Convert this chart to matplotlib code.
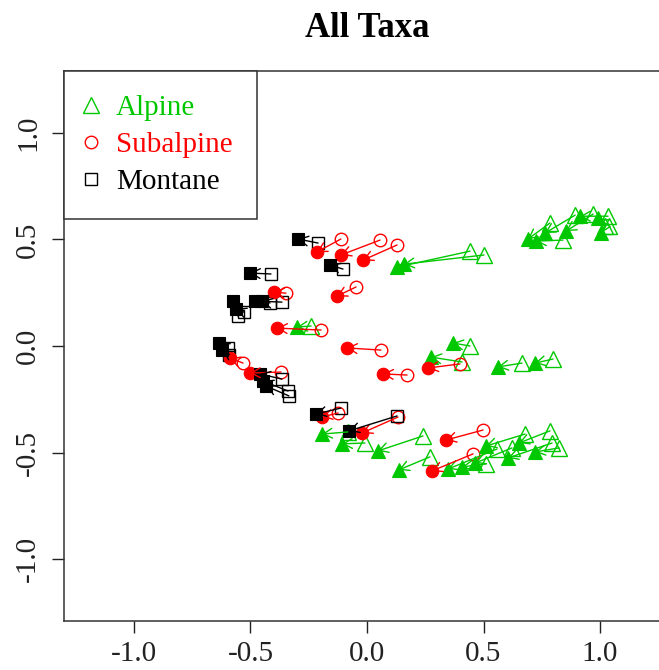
import matplotlib.pyplot as plt
from matplotlib.lines import Line2D

plt.rcParams['font.family'] = ['Liberation Serif', 'DejaVu Serif']

# Alpine: start (open) -> end (filled)
alp_x0 = [0.785, 0.841, 0.893, 0.970, 1.034, 1.039, 1.021, 0.442, 0.502, -0.240, 0.442, 0.408,
          0.665, 0.798, -0.082, -0.009, 0.240, 0.270, 0.511, 0.678, 0.794, 0.785, 0.824, 0.558, 0.622]
alp_y0 = [0.577, 0.497, 0.614, 0.619, 0.609, 0.563, 0.563, 0.445, 0.427, 0.094, 0.000, -0.075,
          -0.080, -0.061, -0.403, -0.455, -0.422, -0.520, -0.553, -0.413, -0.455, -0.398, -0.478, -0.483, -0.478]
alp_x1 = [0.691, 0.725, 0.764, 0.854, 0.914, 0.991, 1.004, 0.129, 0.159, -0.300, 0.369, 0.275,
          0.562, 0.721, -0.193, -0.107, 0.047, 0.137, 0.408, 0.511, 0.605, 0.652, 0.721, 0.348, 0.464]
alp_y1 = [0.502, 0.492, 0.530, 0.539, 0.609, 0.600, 0.530, 0.370, 0.384, 0.089, 0.014, -0.052,
          -0.098, -0.080, -0.413, -0.459, -0.492, -0.581, -0.567, -0.469, -0.525, -0.455, -0.497, -0.577, -0.549]

# Subalpine
sub_x0 = [-0.112, 0.056, 0.129, -0.047, -0.348, -0.197, 0.060, 0.172, 0.399, -0.532, -0.369,
          -0.124, 0.133, 0.498, 0.455]
sub_y0 = [0.502, 0.497, 0.474, 0.277, 0.248, 0.075, -0.019, -0.136, -0.084, -0.080, -0.122,
          -0.314, -0.333, -0.394, -0.506]
sub_x1 = [-0.215, -0.112, -0.017, -0.129, -0.399, -0.386, -0.086, 0.069, 0.262, -0.588, -0.502,
          -0.193, -0.021, 0.339, 0.279]
sub_y1 = [0.441, 0.427, 0.403, 0.234, 0.253, 0.084, -0.009, -0.131, -0.103, -0.056, -0.127,
          -0.333, -0.408, -0.441, -0.586]

# Montane
mon_x0 = [-0.210, -0.103, -0.412, -0.365, -0.416, -0.554, -0.528, -0.597, -0.590, -0.365, -0.339,
          -0.335, -0.112, 0.129]
mon_y0 = [0.483, 0.361, 0.338, 0.206, 0.202, 0.141, 0.159, -0.009, -0.040, -0.155, -0.211,
          -0.234, -0.291, -0.328]
mon_x1 = [-0.296, -0.159, -0.502, -0.481, -0.451, -0.575, -0.562, -0.635, -0.620, -0.459, -0.446,
          -0.433, -0.219, -0.077]
mon_y1 = [0.502, 0.380, 0.342, 0.211, 0.211, 0.211, 0.173, 0.014, -0.020, -0.131, -0.164,
          -0.188, -0.319, -0.398]

groups = [
    ("Alpine", "#00C800", "^", 11, 10, alp_x0, alp_y0, alp_x1, alp_y1),
    ("Subalpine", "#FF0000", "o", 9, 9, sub_x0, sub_y0, sub_x1, sub_y1),
    ("Montane", "black", "s", 9, 8.5, mon_x0, mon_y0, mon_x1, mon_y1),
]

fig = plt.figure(figsize=(6.59, 6.70), dpi=100)
ax = fig.add_axes([0.0971, 0.0731, 0.9196, 0.8209])

for name, col, mk, ms_open, ms_fill, x0, y0, x1, y1 in groups:
    ax.plot(x0, y0, linestyle='none', marker=mk, ms=ms_open, mfc='none', mec=col, mew=1.0, zorder=2)
    ax.plot(x1, y1, linestyle='none', marker=mk, ms=ms_fill, mfc=col, mec=col, mew=0.8, zorder=3)
    for a, b, c, d in zip(x0, y0, x1, y1):
        ax.annotate('', xy=(c, d), xytext=(a, b),
                    arrowprops=dict(arrowstyle='->,head_length=0.45,head_width=0.25', color=col,
                                    lw=1.0, shrinkA=0, shrinkB=0, mutation_scale=14),
                    zorder=4)

ax.set_xlim(-1.30, 1.30)
ax.set_ylim(-1.29, 1.29)
ax.set_xticks([-1.0, -0.5, 0.0, 0.5, 1.0])
ax.set_yticks([-1.0, -0.5, 0.0, 0.5, 1.0])
ax.set_xticklabels(["-1.0", "-0.5", "0.0", "0.5", "1.0"])
ax.set_yticklabels(["-1.0", "-0.5", "0.0", "0.5", "1.0"], rotation=90, va='center')
ax.tick_params(direction='out', length=8.5, width=1.0, labelsize=21, pad=6, colors='#222222')
ax.tick_params(axis='y', pad=8)
for sp in ax.spines.values():
    sp.set_linewidth(1.1)
    sp.set_color('#333333')

handles = [Line2D([], [], linestyle='none', marker=g[2], ms=g[3], mfc='none', mec=g[1], mew=1.0)
           for g in groups]
leg = ax.legend(handles, [g[0] for g in groups], loc='upper left', borderaxespad=0,
                fancybox=False, edgecolor='#333333', framealpha=1, fontsize=21,
                labelcolor=[g[1] for g in groups], handlelength=0.22, handletextpad=0.75,
                borderpad=0.82, labelspacing=0.36)
leg.get_frame().set_linewidth(1.1)

fig.text(0.557, 0.957, "All Taxa", ha='center', va='center', fontsize=25, fontweight='bold')

fig.savefig("out.png", dpi=100)
